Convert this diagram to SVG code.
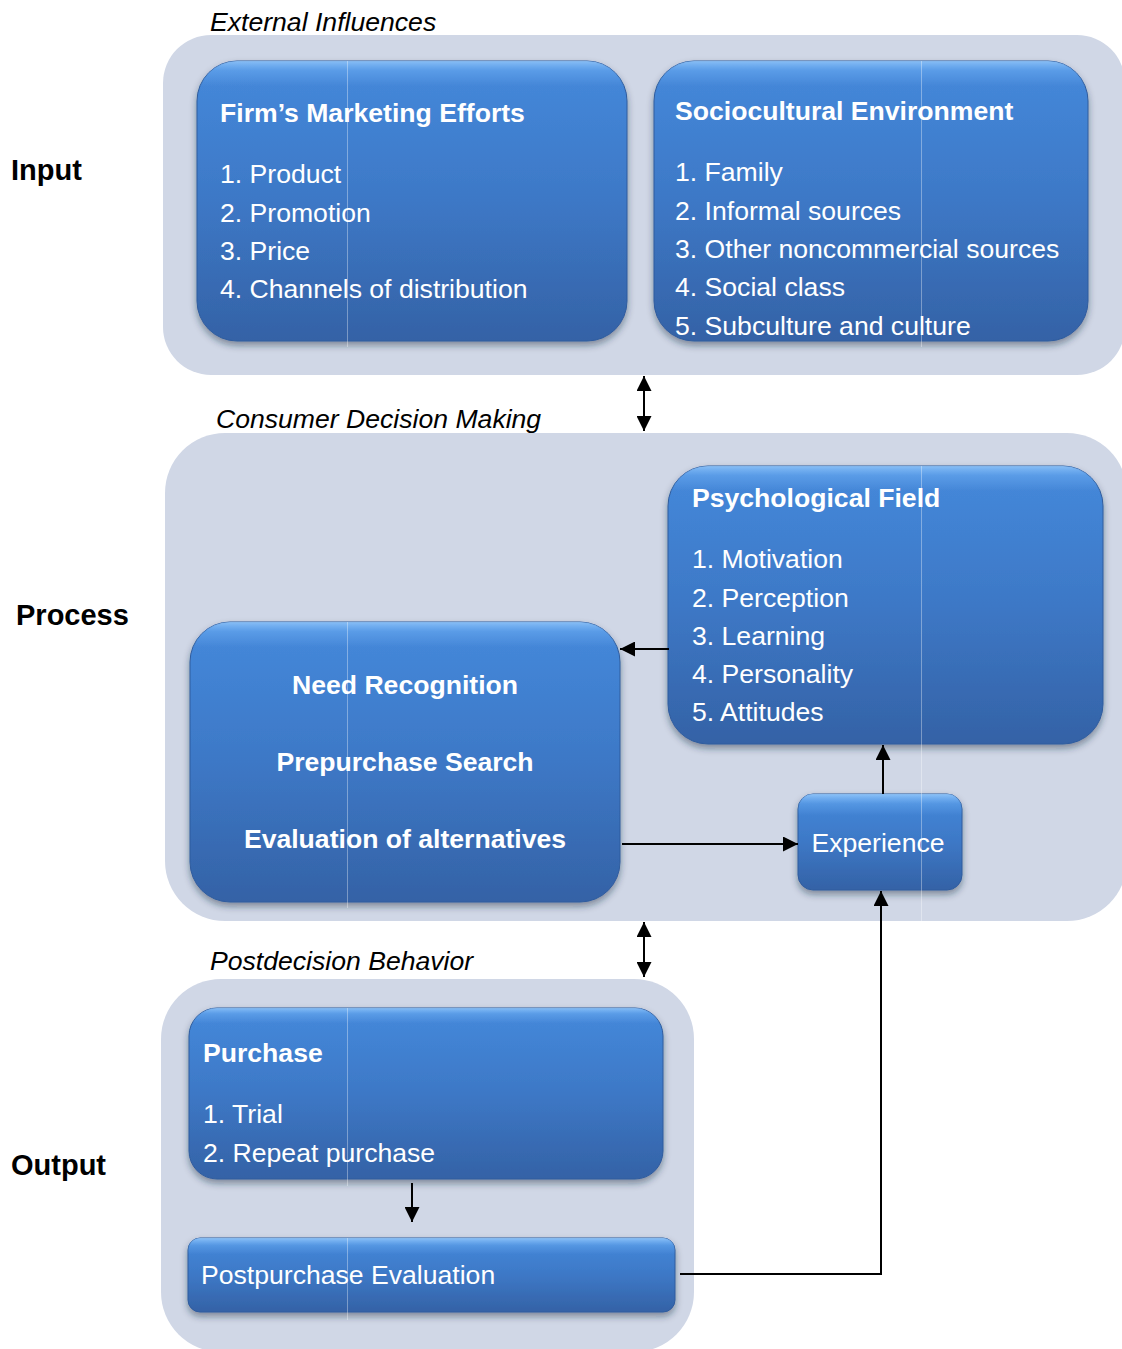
<svg xmlns="http://www.w3.org/2000/svg" width="1122" height="1349" viewBox="0 0 1122 1349">
<defs>
<linearGradient id="blue" x1="0" y1="0" x2="0" y2="1">
<stop offset="0" stop-color="#4589DB"/>
<stop offset="0.5" stop-color="#3D78C6"/>
<stop offset="1" stop-color="#3462A6"/>
</linearGradient>
<linearGradient id="hl" x1="0" y1="0" x2="0" y2="1">
<stop offset="0" stop-color="#9FD0FF" stop-opacity="0.75"/>
<stop offset="0.035" stop-color="#7FBFFF" stop-opacity="0.35"/>
<stop offset="0.09" stop-color="#7FBFFF" stop-opacity="0"/>
<stop offset="1" stop-color="#7FBFFF" stop-opacity="0"/>
</linearGradient>
<linearGradient id="hlS" x1="0" y1="0" x2="0" y2="1">
<stop offset="0" stop-color="#9FD0FF" stop-opacity="0.8"/>
<stop offset="0.1" stop-color="#7FBFFF" stop-opacity="0.3"/>
<stop offset="0.22" stop-color="#7FBFFF" stop-opacity="0"/>
<stop offset="1" stop-color="#7FBFFF" stop-opacity="0"/>
</linearGradient>
<filter id="sh" x="-10%" y="-10%" width="120%" height="130%">
<feDropShadow dx="0" dy="4" stdDeviation="3.5" flood-color="#1c2a40" flood-opacity="0.45"/>
</filter>
<marker id="ah" viewBox="0 0 15 15" refX="15" refY="7.5" markerWidth="15" markerHeight="15" markerUnits="userSpaceOnUse" orient="auto-start-reverse">
<path d="M0,0 L15,7.5 L0,15 Z" fill="#000"/>
</marker>
</defs>
<style>
.cont{fill:#D0D7E6}
.box{fill:url(#blue);stroke:#2F5C9E;stroke-width:1;filter:url(#sh)}
.hl{fill:url(#hl)}
.hls{fill:url(#hlS)}
.t{font-family:"Liberation Sans",Arial,sans-serif;font-size:26.6px;fill:#fff}
.b{font-weight:bold}
.lab{font-family:"Liberation Sans",Arial,sans-serif;font-size:26.6px;font-style:italic;fill:#000}
.side{font-family:"Liberation Sans",Arial,sans-serif;font-size:29px;font-weight:bold;fill:#000}
.c{fill:none;stroke:#000;stroke-width:2}
.seam{stroke:#ffffff;stroke-opacity:0.35;stroke-width:1}
</style>
<rect width="1122" height="1349" fill="#fff"/>

<g id="containers">
<rect class="cont" x="163" y="35" width="962" height="340" rx="48"/>
<rect class="cont" x="165" y="433" width="962" height="488" rx="60"/>
<rect class="cont" x="161" y="979" width="533" height="373" rx="60"/>
</g>

<g id="labels">
<text class="lab" x="210" y="31">External Influences</text>
<text class="lab" x="216" y="428">Consumer Decision Making</text>
<text class="lab" x="210" y="970">Postdecision Behavior</text>
<text class="side" x="11" y="180">Input</text>
<text class="side" x="16" y="625">Process</text>
<text class="side" x="11" y="1175">Output</text>
</g>

<g id="firm">
<rect class="box" x="197" y="61" width="430" height="280" rx="40"/>
<rect class="hl" x="197" y="61" width="430" height="280" rx="40"/>
<text class="t b" x="220" y="122">Firm’s Marketing Efforts</text>
<text class="t" x="220" y="183">1. Product</text>
<text class="t" x="220" y="222">2. Promotion</text>
<text class="t" x="220" y="260">3. Price</text>
<text class="t" x="220" y="298">4. Channels of distribution</text>
</g>

<g id="socio">
<rect class="box" x="654" y="61" width="434" height="280" rx="40"/>
<rect class="hl" x="654" y="61" width="434" height="280" rx="40"/>
<text class="t b" x="675" y="120">Sociocultural Environment</text>
<text class="t" x="675" y="181">1. Family</text>
<text class="t" x="675" y="220">2. Informal sources</text>
<text class="t" x="675" y="258">3. Other noncommercial sources</text>
<text class="t" x="675" y="296">4. Social class</text>
<text class="t" x="675" y="335">5. Subculture and culture</text>
</g>

<g id="psych">
<rect class="box" x="668" y="466" width="435" height="278" rx="40"/>
<rect class="hl" x="668" y="466" width="435" height="278" rx="40"/>
<text class="t b" x="692" y="507">Psychological Field</text>
<text class="t" x="692" y="568">1. Motivation</text>
<text class="t" x="692" y="607">2. Perception</text>
<text class="t" x="692" y="645">3. Learning</text>
<text class="t" x="692" y="683">4. Personality</text>
<text class="t" x="692" y="721">5. Attitudes</text>
</g>

<g id="decision">
<rect class="box" x="190" y="622" width="430" height="280" rx="40"/>
<rect class="hl" x="190" y="622" width="430" height="280" rx="40"/>
<text class="t b" x="405" y="694" text-anchor="middle">Need Recognition</text>
<text class="t b" x="405" y="771" text-anchor="middle">Prepurchase Search</text>
<text class="t b" x="405" y="848" text-anchor="middle">Evaluation of alternatives</text>
</g>

<g id="experience">
<rect class="box" x="798" y="794" width="164" height="96" rx="15"/>
<rect class="hls" x="798" y="794" width="164" height="96" rx="15"/>
<text class="t" x="878" y="852" text-anchor="middle">Experience</text>
</g>

<g id="purchase">
<rect class="box" x="189" y="1008" width="474" height="171" rx="28"/>
<rect class="hl" x="189" y="1008" width="474" height="171" rx="28"/>
<text class="t b" x="203" y="1062">Purchase</text>
<text class="t" x="203" y="1123">1. Trial</text>
<text class="t" x="203" y="1162">2. Repeat purchase</text>
</g>

<g id="postpurchase">
<rect class="box" x="188" y="1238" width="487" height="74" rx="12"/>
<rect class="hls" x="188" y="1238" width="487" height="74" rx="12"/>
<text class="t" x="201" y="1284">Postpurchase Evaluation</text>
</g>

<g id="seams">
<line class="seam" x1="347.5" y1="61" x2="347.5" y2="347"/>
<line class="seam" x1="347.5" y1="622" x2="347.5" y2="908"/>
<line class="seam" x1="347.5" y1="1008" x2="347.5" y2="1186"/>
<line class="seam" x1="347.5" y1="1238" x2="347.5" y2="1320"/>
<line class="seam" x1="921.5" y1="61" x2="921.5" y2="347"/>
<line class="seam" x1="921.5" y1="466" x2="921.5" y2="921"/>
</g>

<g id="connectors">
<line class="c" x1="644" y1="376" x2="644" y2="431" marker-start="url(#ah)" marker-end="url(#ah)"/>
<line class="c" x1="669" y1="649" x2="620" y2="649" marker-end="url(#ah)"/>
<line class="c" x1="622" y1="844" x2="798" y2="844" marker-end="url(#ah)"/>
<line class="c" x1="883" y1="794" x2="883" y2="745" marker-end="url(#ah)"/>
<polyline class="c" points="680,1274 881,1274 881,891" marker-end="url(#ah)"/>
<line class="c" x1="644" y1="922" x2="644" y2="977" marker-start="url(#ah)" marker-end="url(#ah)"/>
<line class="c" x1="412" y1="1183" x2="412" y2="1222" marker-end="url(#ah)"/>
</g>
</svg>
